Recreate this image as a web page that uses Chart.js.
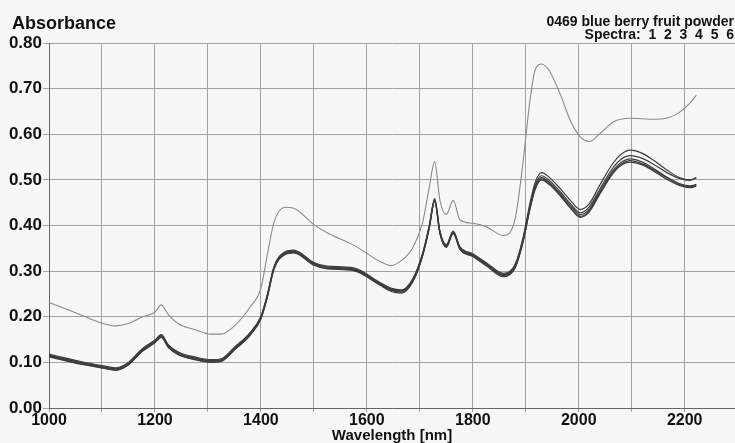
<!DOCTYPE html>
<html>
<head>
<meta charset="utf-8">
<title>0469 blue berry fruit powder</title>
<script src="https://cdn.jsdelivr.net/npm/chart.js@4.4.1/dist/chart.umd.min.js"></script>
<style>
	html, body { margin: 0; padding: 0; background: #f7f7f7; }
	canvas { display: block; }
</style>
</head>
<body>
<canvas id="myChart" width="735" height="443"></canvas>
<script>
// wavelength grid shared by all spectra (nm)
const wavelengths = [1000, 1030, 1060, 1100, 1125, 1150, 1175, 1200, 1212, 1225, 1245, 1275, 1305, 1325, 1350, 1380, 1400, 1412, 1425, 1445, 1462, 1500, 1525, 1575, 1625, 1645, 1665, 1687, 1705, 1718, 1728, 1738, 1750, 1763, 1776, 1800, 1826, 1858, 1880, 1895, 1908, 1918, 1930, 1945, 1965, 1985, 2003, 2020, 2040, 2065, 2080, 2097, 2120, 2140, 2165, 2190, 2210, 2222];

const spectrum1 = [0.231, 0.218, 0.204, 0.186, 0.180, 0.185, 0.199, 0.210, 0.226, 0.205, 0.184, 0.172, 0.162, 0.162, 0.180, 0.222, 0.262, 0.335, 0.408, 0.440, 0.438, 0.402, 0.384, 0.357, 0.321, 0.312, 0.323, 0.352, 0.405, 0.485, 0.540, 0.455, 0.424, 0.455, 0.412, 0.405, 0.397, 0.378, 0.415, 0.540, 0.675, 0.742, 0.754, 0.738, 0.688, 0.628, 0.594, 0.584, 0.601, 0.627, 0.633, 0.635, 0.634, 0.633, 0.635, 0.648, 0.668, 0.686];
const spectrum2 = [0.118, 0.110, 0.102, 0.093, 0.088, 0.100, 0.129, 0.149, 0.161, 0.139, 0.122, 0.112, 0.106, 0.108, 0.133, 0.166, 0.201, 0.248, 0.311, 0.342, 0.346, 0.319, 0.311, 0.307, 0.275, 0.263, 0.259, 0.284, 0.338, 0.401, 0.459, 0.388, 0.358, 0.388, 0.353, 0.338, 0.318, 0.295, 0.315, 0.374, 0.449, 0.495, 0.516, 0.505, 0.481, 0.454, 0.435, 0.448, 0.489, 0.537, 0.556, 0.565, 0.558, 0.544, 0.523, 0.505, 0.500, 0.505];
const spectrum3 = [0.116, 0.108, 0.100, 0.091, 0.086, 0.098, 0.127, 0.147, 0.159, 0.137, 0.120, 0.110, 0.104, 0.106, 0.131, 0.164, 0.199, 0.246, 0.309, 0.340, 0.344, 0.317, 0.309, 0.305, 0.273, 0.261, 0.257, 0.282, 0.336, 0.399, 0.457, 0.386, 0.356, 0.386, 0.351, 0.336, 0.316, 0.293, 0.313, 0.370, 0.444, 0.489, 0.509, 0.498, 0.474, 0.447, 0.428, 0.441, 0.480, 0.527, 0.545, 0.553, 0.547, 0.535, 0.517, 0.503, 0.499, 0.504];
const spectrum4 = [0.115, 0.107, 0.099, 0.090, 0.085, 0.097, 0.126, 0.146, 0.158, 0.136, 0.119, 0.109, 0.103, 0.105, 0.130, 0.163, 0.198, 0.245, 0.308, 0.339, 0.343, 0.316, 0.308, 0.304, 0.272, 0.260, 0.256, 0.281, 0.335, 0.398, 0.456, 0.385, 0.355, 0.385, 0.350, 0.335, 0.315, 0.292, 0.311, 0.368, 0.441, 0.485, 0.505, 0.494, 0.470, 0.443, 0.424, 0.436, 0.475, 0.521, 0.538, 0.546, 0.539, 0.526, 0.507, 0.492, 0.487, 0.490];
const spectrum5 = [0.113, 0.105, 0.097, 0.088, 0.083, 0.095, 0.124, 0.144, 0.156, 0.134, 0.117, 0.107, 0.101, 0.103, 0.128, 0.161, 0.196, 0.243, 0.306, 0.337, 0.341, 0.314, 0.306, 0.302, 0.270, 0.258, 0.254, 0.279, 0.333, 0.396, 0.454, 0.383, 0.353, 0.383, 0.348, 0.333, 0.313, 0.290, 0.309, 0.366, 0.438, 0.482, 0.502, 0.491, 0.467, 0.439, 0.420, 0.432, 0.471, 0.517, 0.534, 0.542, 0.535, 0.523, 0.505, 0.490, 0.485, 0.488];
const spectrum6 = [0.112, 0.104, 0.096, 0.088, 0.083, 0.095, 0.123, 0.143, 0.155, 0.133, 0.116, 0.106, 0.100, 0.102, 0.127, 0.160, 0.195, 0.242, 0.305, 0.336, 0.340, 0.313, 0.305, 0.301, 0.269, 0.256, 0.252, 0.277, 0.332, 0.395, 0.453, 0.382, 0.352, 0.382, 0.347, 0.332, 0.311, 0.288, 0.307, 0.364, 0.436, 0.480, 0.500, 0.489, 0.465, 0.437, 0.418, 0.430, 0.469, 0.515, 0.532, 0.539, 0.533, 0.520, 0.502, 0.488, 0.483, 0.486];

const spectra = [spectrum1, spectrum2, spectrum3, spectrum4, spectrum5, spectrum6];
const spectraNames = ["1", "2", "3", "4", "5", "6"];
// vertical grid lines every 100 nm, labels every 200 nm
const xGrid = [1000, 1100, 1200, 1300, 1400, 1500, 1600, 1700, 1800, 1900, 2000, 2100, 2200];
const xTicks = [1000, 1200, 1400, 1600, 1800, 2000, 2200];
const yTicks = [0.0, 0.1, 0.2, 0.3, 0.4, 0.5, 0.6, 0.7, 0.8];

const FONT = "'Liberation Sans', Arial, sans-serif";

document.addEventListener("DOMContentLoaded", function () {
	// titles drawn straight on the canvas
	const headerText = {
		id: "headerText",
		afterDraw(chart) {
			const c = chart.ctx;
			c.save();
			c.fillStyle = "#111";
			c.textBaseline = "alphabetic";
			c.font = "bold 18px " + FONT;
			c.textAlign = "left";
			c.fillText("Absorbance", 12, 29);
			c.font = "bold 14px " + FONT;
			c.textAlign = "right";
			c.fillText("0469 blue berry fruit powder", 734, 26);
			c.fillText("Spectra:  " + spectraNames.join("  "), 734, 39);
			c.restore();
		},
	};

	const ctx = document.getElementById("myChart").getContext("2d");
	const myChart = new Chart(ctx, {
		type: "line",
		data: {
			datasets: spectra.map(function (s, k) {
				return {
					label: "Spectrum " + spectraNames[k],
					data: wavelengths.map((w, i) => ({ x: w, y: s[i] })),
					borderColor: k === 0 ? "#8a8a8a" : "#3c3c3c",
					borderWidth: k === 0 ? 1.1 : 1.2,
					fill: false,
				};
			}),
		},
		options: {
			responsive: false,
			animation: false,
			layout: { padding: { top: 43, left: 0, right: 0, bottom: 0 } },
			elements: {
				point: { radius: 0 },
				line: { cubicInterpolationMode: "monotone" },
			},
			plugins: {
				legend: { display: false },
				tooltip: { enabled: false },
			},
			scales: {
				x: {
					type: "linear",
					min: 1000,
					max: 2295,
					afterBuildTicks: (s) => {
						s.ticks = xGrid.map((v) => ({ value: v }));
					},
					afterFit: (s) => { s.height = 35; },
					ticks: {
						autoSkip: false,
						maxRotation: 0,
						padding: 0,
						color: "#111",
						font: { family: FONT, size: 16, weight: "bold", lineHeight: 1.1 },
						callback: (v) => (xTicks.includes(v) ? String(v) : ""),
					},
					grid: { color: "#a3a3a3", tickLength: 4 },
					border: { color: "#666" },
					title: {
						display: true,
						text: "Wavelength [nm]",
						color: "#111",
						padding: { top: 0, bottom: 0 },
						font: { family: FONT, size: 15, weight: "bold", lineHeight: 1.0 },
					},
				},
				y: {
					min: 0,
					max: 0.8,
					afterBuildTicks: (s) => {
						s.ticks = yTicks.map((v) => ({ value: v }));
					},
					afterFit: (s) => { s.width = 49; },
					ticks: {
						padding: 1,
						color: "#111",
						font: { family: FONT, size: 17, weight: "bold" },
						callback: (v) => Number(v).toFixed(2),
					},
					grid: { color: "#a3a3a3", tickLength: 6 },
					border: { color: "#666" },
				},
			},
		},
		plugins: [headerText],
	});
});
</script>
</body>
</html>
